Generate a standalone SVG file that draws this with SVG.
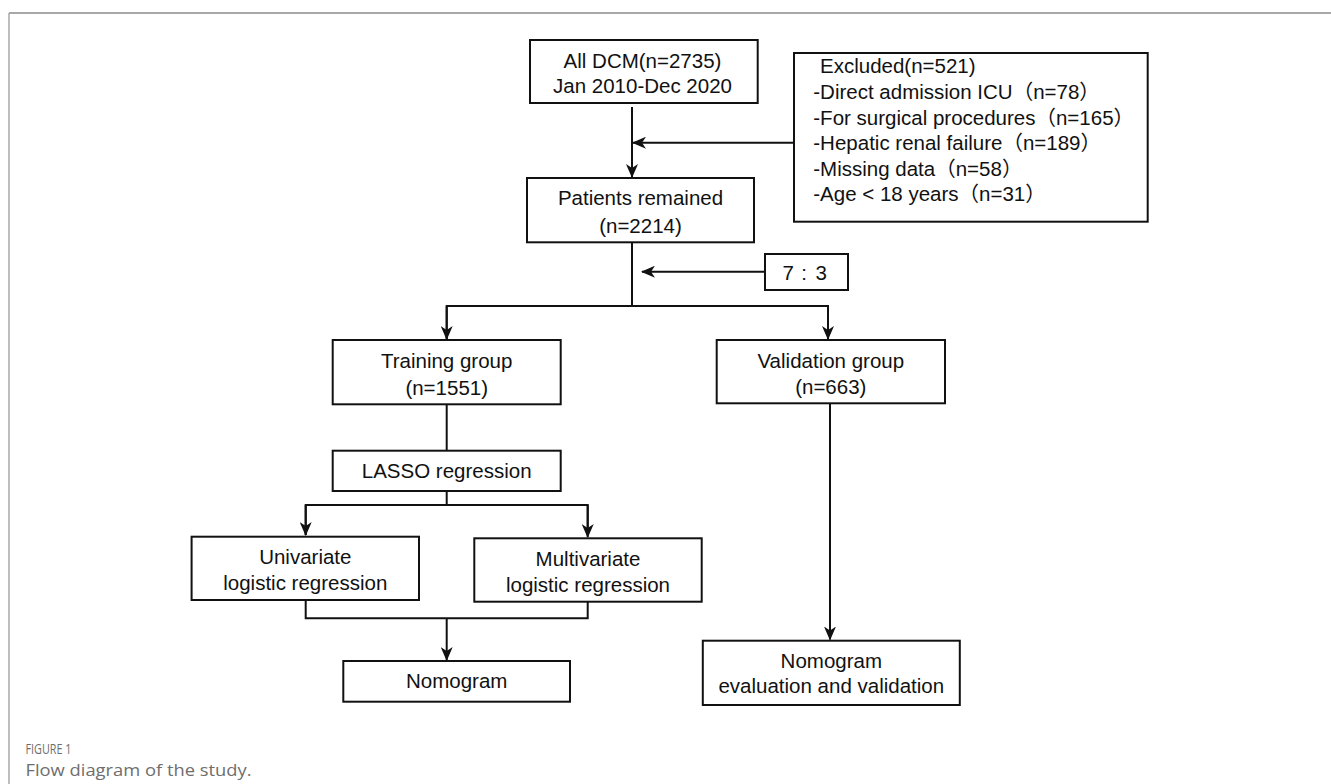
<svg xmlns="http://www.w3.org/2000/svg" width="1331" height="784" viewBox="0 0 1331 784">
<style>
  .box { fill: #ffffff; stroke: #111111; stroke-width: 2; }
  .t { font-family: "Liberation Sans", Arial, "Noto Sans CJK SC", sans-serif; font-size: 20.5px; fill: #111111; }
  .c { text-anchor: middle; }
  .conn { fill: none; stroke: #111111; stroke-width: 2; }
  .frame { stroke: #a8a8a8; fill: none; }
  .cap { font-family: "Open Sans", "Noto Sans", sans-serif; fill: #6e6e6e; }
</style>
<defs>
  <marker id="arr" viewBox="0 0 14 12" refX="13" refY="6" markerWidth="14" markerHeight="12" markerUnits="userSpaceOnUse" orient="auto">
    <path d="M0,0 L14,6 L0,12 L4,6 Z" fill="#111111"/>
  </marker>
</defs>
<rect width="1331" height="784" fill="#ffffff"/>
<g id="frame">
  <line class="frame" x1="9" y1="13" x2="1331" y2="13" stroke-width="2"/>
  <line class="frame" x1="9" y1="13" x2="9" y2="784" stroke-width="1.5"/>
</g>
<g id="connectors">
  <line class="conn" x1="632" y1="107" x2="632" y2="177" marker-end="url(#arr)"/>
  <line class="conn" x1="794" y1="142.7" x2="633" y2="142.7" marker-end="url(#arr)"/>
  <polyline class="conn" points="632,242 632,306"/>
  <line class="conn" x1="765" y1="271.7" x2="642" y2="271.7" marker-end="url(#arr)"/>
  <polyline class="conn" points="446.7,339 446.7,306 828,306 828,339" />
  <line class="conn" x1="446.7" y1="306" x2="446.7" y2="339" marker-end="url(#arr)"/>
  <line class="conn" x1="828" y1="306" x2="828" y2="339" marker-end="url(#arr)"/>
  <line class="conn" x1="446.7" y1="404" x2="446.7" y2="451"/>
  <polyline class="conn" points="446.7,491 446.7,505"/>
  <polyline class="conn" points="305.7,535 305.7,505 587.7,505 587.7,535"/>
  <line class="conn" x1="305.7" y1="505" x2="305.7" y2="535" marker-end="url(#arr)"/>
  <line class="conn" x1="587.7" y1="505" x2="587.7" y2="537" marker-end="url(#arr)"/>
  <polyline class="conn" points="305.7,600 305.7,618.3 587.7,618.3 587.7,601.7"/>
  <line class="conn" x1="446.7" y1="618.3" x2="446.7" y2="660" marker-end="url(#arr)"/>
  <line class="conn" x1="830" y1="403.3" x2="830" y2="639.5" marker-end="url(#arr)"/>
</g>
<g id="all-dcm">
  <rect class="box" x="530" y="40" width="227.7" height="63"/>
  <text class="t c" x="642.5" y="67.7">All DCM(n=2735)</text>
  <text class="t c" x="642.5" y="93.3">Jan 2010-Dec 2020</text>
</g>
<g id="excluded">
  <rect class="box" x="794" y="53" width="353.7" height="168.7"/>
  <text class="t" x="820" y="73.3">Excluded(n=521)</text>
  <text class="t" x="813.3" y="99">-Direct admission ICU（n=78）</text>
  <text class="t" x="813.3" y="124.5">-For surgical procedures（n=165）</text>
  <text class="t" x="813.3" y="150">-Hepatic renal failure（n=189）</text>
  <text class="t" x="813.3" y="175.7">-Missing data（n=58）</text>
  <text class="t" x="813.3" y="201.2">-Age &lt; 18 years（n=31）</text>
</g>
<g id="patients-remained">
  <rect class="box" x="527" y="178" width="227" height="64.3"/>
  <text class="t c" x="640.5" y="205">Patients remained</text>
  <text class="t c" x="640.5" y="233">(n=2214)</text>
</g>
<g id="ratio">
  <rect class="box" x="765" y="254" width="83" height="36"/>
  <text class="t" x="782.5" y="280" font-size="22">7</text>
  <text class="t c" x="804" y="280" font-size="22">:</text>
  <text class="t" x="815.5" y="280" font-size="22">3</text>
</g>
<g id="training">
  <rect class="box" x="332.7" y="340" width="228" height="64.3"/>
  <text class="t c" x="446.7" y="368.3">Training group</text>
  <text class="t c" x="446.7" y="395">(n=1551)</text>
</g>
<g id="validation">
  <rect class="box" x="716.7" y="340" width="228.3" height="63.3"/>
  <text class="t c" x="830.8" y="368.3">Validation group</text>
  <text class="t c" x="830.8" y="394">(n=663)</text>
</g>
<g id="lasso">
  <rect class="box" x="332.7" y="450.7" width="228" height="40.3"/>
  <text class="t c" x="446.7" y="477.7">LASSO regression</text>
</g>
<g id="univariate">
  <rect class="box" x="191.6" y="536.7" width="227.4" height="63.3"/>
  <text class="t c" x="305.3" y="564">Univariate</text>
  <text class="t c" x="305.3" y="590">logistic regression</text>
</g>
<g id="multivariate">
  <rect class="box" x="474.3" y="538.3" width="227.4" height="63.4"/>
  <text class="t c" x="588" y="565.5">Multivariate</text>
  <text class="t c" x="588" y="591.5">logistic regression</text>
</g>
<g id="nomogram">
  <rect class="box" x="343.3" y="661" width="226.7" height="40.7"/>
  <text class="t c" x="456.7" y="688">Nomogram</text>
</g>
<g id="evaluation">
  <rect class="box" x="702.8" y="640.7" width="257" height="64.3"/>
  <text class="t c" x="831.3" y="668.3">Nomogram</text>
  <text class="t c" x="831.3" y="693.3">evaluation and validation</text>
</g>
<g id="caption">
  <text class="cap" x="25.5" y="754" font-size="14" textLength="46" lengthAdjust="spacingAndGlyphs">FIGURE 1</text>
  <text class="cap" x="25.5" y="776" font-size="17" textLength="226" lengthAdjust="spacingAndGlyphs">Flow diagram of the study.</text>
</g>
</svg>
